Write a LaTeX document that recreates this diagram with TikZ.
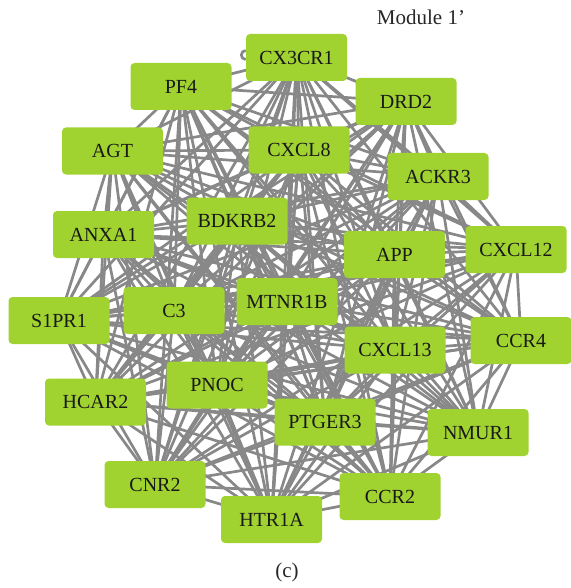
\documentclass[tikz,border=0pt]{standalone}
\usepackage{fontspec}
\setmainfont{Liberation Serif}
\usetikzlibrary{backgrounds}
\definecolor{genefill}{RGB}{160,210,48}
\definecolor{edgegray}{RGB}{136,136,136}
\tikzset{
  gene/.style={fill=genefill, rounded corners=4pt, minimum width=101pt,
    minimum height=47pt, inner sep=0pt, font=\fontsize{20}{22}\selectfont, text=black!90},
  edgeline/.style={draw=edgegray, line width=2.7pt},
  caption/.style={font=\fontsize{21}{24}\selectfont, text=black!85}
}
\begin{document}
\begin{tikzpicture}[x=1pt, y=-1pt]
\useasboundingbox (0,0) rectangle (570,588);
% genes of the module
\node[gene] (CXthreeCR) at (296.5,57.5) {CX3CR1};
\node[gene] (PFfour)   at (181,86.5)   {PF4};
\node[gene] (DRDtwo)   at (406,101.5)  {DRD2};
\node[gene] (AGT)      at (112.5,151)  {AGT};
\node[gene] (CXCLeight) at (299,150)   {CXCL8};
\node[gene] (ACKRthree) at (438,176.5) {ACKR3};
\node[gene] (ANXA)     at (103.5,234.5) {ANXA1};
\node[gene] (BDKRB)    at (237,221)    {BDKRB2};
\node[gene] (APP)      at (394.5,254.5) {APP};
\node[gene] (CXCLtwelve) at (516,249.5) {CXCL12};
\node[gene] (SPR)      at (59,320.5)   {S1PR1};
\node[gene] (Cthree)   at (174,310.5)  {C3};
\node[gene] (MTNR)     at (287,301.5)  {MTNR1B};
\node[gene] (CXCLthirteen) at (395,350) {CXCL13};
\node[gene] (CCRfour)  at (521,340.5)  {CCR4};
\node[gene] (HCAR)     at (95.5,402)   {HCAR2};
\node[gene] (PNOC)     at (217,385)    {PNOC};
\node[gene] (PTGER)    at (325,422)    {PTGER3};
\node[gene] (NMUR)     at (478,432.5)  {NMUR1};
\node[gene] (CNR)      at (155,484.5)  {CNR2};
\node[gene] (HTR)      at (271.5,519.5) {HTR1A};
\node[gene] (CCRtwo)   at (390,496.5)  {CCR2};
% labels
\node[caption] (module) at (421,17) {Module 1'};
\node[caption] (panel) at (287,572) {(c)};
% interactions, drawn behind the genes
\begin{pgfonlayer}{background}
\foreach \a [count=\i] in {CXthreeCR,PFfour,DRDtwo,AGT,CXCLeight,ACKRthree,ANXA,BDKRB,APP,CXCLtwelve,SPR,Cthree,MTNR,CXCLthirteen,CCRfour,HCAR,PNOC,PTGER,NMUR,CNR,HTR,CCRtwo}{
  \foreach \b [count=\j] in {CXthreeCR,PFfour,DRDtwo,AGT,CXCLeight,ACKRthree,ANXA,BDKRB,APP,CXCLtwelve,SPR,Cthree,MTNR,CXCLthirteen,CCRfour,HCAR,PNOC,PTGER,NMUR,CNR,HTR,CCRtwo}{
    \ifnum\j>\i
      \draw[edgeline] (\a.center) -- (\b.center);
    \fi
  }
}
% self-interaction loop of CX3CR1
\draw[edgeline] ([yshift=7pt]CXthreeCR.west) arc[start angle=90, end angle=270, radius=4.5pt];
\end{pgfonlayer}
\end{tikzpicture}
\end{document}
